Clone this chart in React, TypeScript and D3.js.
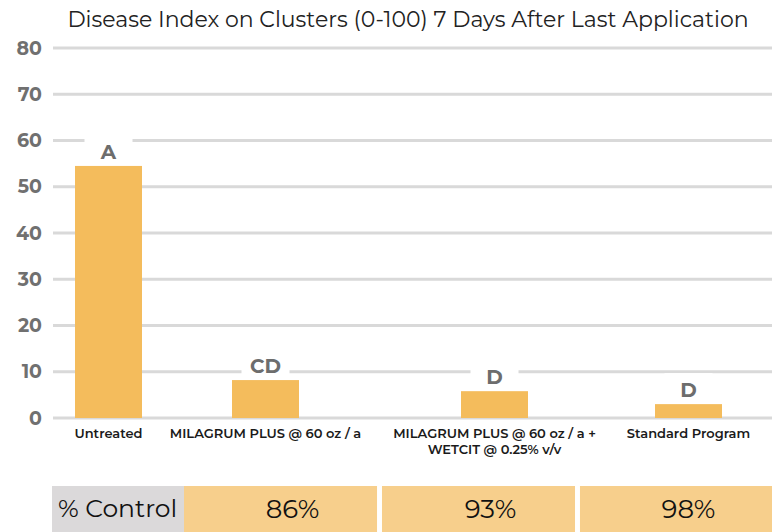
import React from "react";
import * as d3 from "d3";

const categories = [
  ["Untreated"],
  ["MILAGRUM PLUS @ 60 oz / a"],
  ["MILAGRUM PLUS @ 60 oz / a +", "WETCIT @ 0.25% v/v"],
  ["Standard Program"],
];
const values = [54.5, 8.2, 5.8, 3.0];
const letters = ["A", "CD", "D", "D"];
const yTicks = [0, 10, 20, 30, 40, 50, 60, 70, 80];
const controlLabel = "% Control";
const controlValues = ["86%", "93%", "98%"];
const title = "Disease Index on Clusters (0-100) 7 Days After Last Application";

const W = 772;
const H = 532;
const FONT = "Montserrat, 'Open Sans', sans-serif";

export default function App() {
  const y = d3.scaleLinear().domain([0, 80]).range([418, 48]);
  // category centres are unevenly spaced in the original layout
  const x = d3.scaleLinear().domain([0, 1, 2, 3]).range([108.5, 265.5, 494.5, 688.5]);
  const barW = 67;
  const cells = d3
    .scaleBand<number>()
    .domain(controlValues.map((_, i) => i))
    .range([184, 773])
    .paddingInner(0.025);

  return (
    <svg
      width={W}
      height={H}
      style={{ position: "absolute", left: 0, top: 0, background: "#fff" }}
      fontFamily={FONT}
    >
      <text x={408} y={27} textAnchor="middle" fontSize={22} fill="#222">
        {title}
      </text>
      {yTicks.map((t) => (
        <g key={t}>
          <line x1={53} x2={W} y1={y(t)} y2={y(t)} stroke="#d9d9d9" strokeWidth={3} />
          <text
            x={42}
            y={y(t)}
            dy="0.35em"
            textAnchor="end"
            fontSize={19}
            fontWeight={700}
            fill="#707070"
          >
            {t}
          </text>
        </g>
      ))}
      {values.map((v, i) => (
        <rect
          key={i}
          x={x(i) - barW / 2}
          y={y(v)}
          width={barW}
          height={y(0) - y(v)}
          fill="#F4BC5C"
        />
      ))}
      {values.map((v, i) => (
        <g key={"l" + i}>
          <rect x={x(i) - 24} y={y(v) - 31} width={48} height={30} fill="#fff" />
          <text
            x={x(i)}
            y={y(v) - 7}
            textAnchor="middle"
            fontSize={20}
            fontWeight={700}
            fill="#6d6d6d"
          >
            {letters[i]}
          </text>
        </g>
      ))}
      {categories.map((lines, i) => (
        <text
          key={"c" + i}
          x={x(i)}
          y={438}
          textAnchor="middle"
          fontSize={13}
          fontWeight={600}
          fill="#1a1a1a"
        >
          {lines.map((ln, j) => (
            <tspan key={j} x={x(i)} dy={j === 0 ? 0 : 16}>
              {ln}
            </tspan>
          ))}
        </text>
      ))}
      <rect x={52} y={486} width={132} height={50} fill="#DBD9DA" />
      <text x={58} y={517} fontSize={25} fill="#111">
        {controlLabel}
      </text>
      {controlValues.map((c, i) => (
        <g key={"t" + i}>
          <rect x={cells(i)!} y={486} width={cells.bandwidth()} height={50} fill="#F7CF8C" />
          <text
            x={cells(i)! + cells.bandwidth() / 2 + 12}
            y={518}
            textAnchor="middle"
            fontSize={26}
            fill="#111"
          >
            {c}
          </text>
        </g>
      ))}
    </svg>
  );
}
